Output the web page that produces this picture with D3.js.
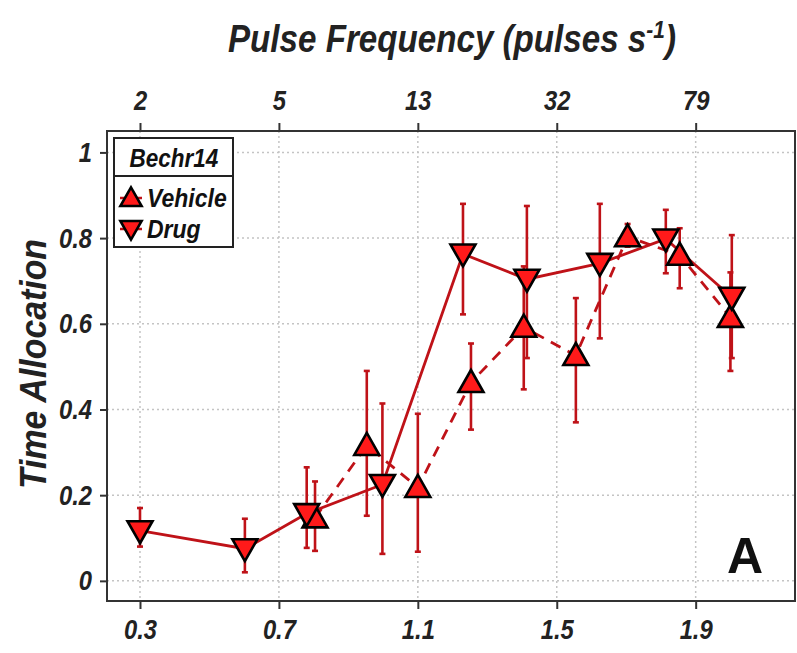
<!DOCTYPE html>
<html>
<head>
<meta charset="utf-8">
<script src="https://cdn.jsdelivr.net/npm/d3@7"></script>
<style>
  body { margin: 0; background: #fff; }
  text { font-family: "Liberation Sans", Arial, sans-serif; }
</style>
</head>
<body>
<div id="chart"></div>
<script>
// log10 pulse frequency on the bottom axis, time allocation on the y axis
var vehicleX = [0.804, 0.953, 1.10, 1.253, 1.405, 1.555, 1.704, 1.854, 2.0];
var vehicleY = [0.147, 0.316, 0.218, 0.463, 0.592, 0.526, 0.803, 0.760, 0.615];
var vehicleHi = [0.232, 0.49, 0.39, 0.554, 0.734, 0.66, 0.833, 0.823, 0.72];
var vehicleLo = [0.07, 0.152, 0.068, 0.353, 0.447, 0.37, 0.78, 0.683, 0.49];

var drugX = [0.3, 0.602, 0.78, 0.998, 1.23, 1.414, 1.624, 1.814, 2.004];
var drugY = [0.117, 0.075, 0.157, 0.225, 0.763, 0.704, 0.741, 0.798, 0.662];
var drugHi = [0.17, 0.145, 0.265, 0.414, 0.88, 0.875, 0.88, 0.866, 0.807];
var drugLo = [0.08, 0.02, 0.077, 0.063, 0.622, 0.52, 0.566, 0.718, 0.52];

var bottomTicks = [0.3, 0.7, 1.1, 1.5, 1.9];
var topTickLabels = ["2", "5", "13", "32", "79"];
var yTicks = [0, 0.2, 0.4, 0.6, 0.8, 1];
var yTickLabels = ["0", "0.2", "0.4", "0.6", "0.8", "1"];

var W = 797, H = 653;
var pLeft = 107, pRight = 795, pTop = 131, pBottom = 601;
var narrow = 0.85; // reference uses a condensed face

var svg = d3.select("#chart").append("svg").attr("width", W).attr("height", H);

var x = d3.scaleLinear().domain([0.205, 2.186]).range([pLeft, pRight]);
var y = d3.scaleLinear().domain([-0.047, 1.05]).range([pBottom, pTop]);

var lineColor = "#bf1218";
var fillColor = "#ff1a1a";

function squeeze(sel, s) {
    sel.each(function () {
        var ax = +this.getAttribute("x") || 0;
        this.setAttribute("transform", "translate(" + ax + ",0) scale(" + s + ",1) translate(" + (-ax) + ",0)");
    });
}
function boldItalic(sel, size) {
    sel.style("font-size", size + "px").style("font-weight", "bold").style("font-style", "italic").style("fill", "#222");
}

// grid
svg.append("g").selectAll("line").data(bottomTicks).enter().append("line")
    .attr("x1", function (d) { return x(d); }).attr("x2", function (d) { return x(d); })
    .attr("y1", pTop).attr("y2", pBottom)
    .style("stroke", "#c4c4c4").style("stroke-width", 1.5).style("stroke-dasharray", "2,3");
svg.append("g").selectAll("line").data(yTicks).enter().append("line")
    .attr("x1", pLeft).attr("x2", pRight)
    .attr("y1", function (d) { return y(d); }).attr("y2", function (d) { return y(d); })
    .style("stroke", "#c4c4c4").style("stroke-width", 1.5).style("stroke-dasharray", "2,3");

// axes
var bottomAxis = d3.axisBottom(x).tickValues(bottomTicks).tickFormat(d3.format(".1f")).tickSize(8).tickPadding(10);
var topAxis = d3.axisTop(x).tickValues(bottomTicks)
    .tickFormat(function (d, i) { return topTickLabels[i]; }).tickSize(8).tickPadding(13);
var leftAxis = d3.axisLeft(y).tickValues(yTicks)
    .tickFormat(function (d, i) { return yTickLabels[i]; }).tickSize(7).tickPadding(8);

function styleAxis(g) {
    g.select(".domain").remove();
    g.selectAll(".tick line").style("stroke", "#333").style("stroke-width", 2);
    g.selectAll(".tick text").attr("font-family", null).call(boldItalic, 28).call(squeeze, narrow);
}
svg.append("g").attr("transform", "translate(0," + pBottom + ")").call(bottomAxis).call(styleAxis);
svg.append("g").attr("transform", "translate(0," + pTop + ")").call(topAxis).call(styleAxis);
svg.append("g").attr("transform", "translate(" + pLeft + ",0)").call(leftAxis).call(styleAxis);

// frame
svg.append("rect").attr("x", pLeft).attr("y", pTop).attr("width", pRight - pLeft).attr("height", pBottom - pTop)
    .style("fill", "none").style("stroke", "#333").style("stroke-width", 2);

// titles
var titleG = svg.append("g");
var title = titleG.append("text").attr("x", 0).attr("y", 0).call(boldItalic, 38);
title.append("tspan").text("Pulse Frequency (pulses s");
title.append("tspan").attr("dy", -14).style("font-size", "24px").text("-1");
title.append("tspan").attr("dy", 14).text(")");
var tw = title.node().getBBox().width;
titleG.attr("transform", "translate(228,52) scale(" + (448 / tw) + ",1)");

var ylabG = svg.append("g");
var ylab = ylabG.append("text").attr("text-anchor", "middle").call(boldItalic, 37).text("Time Allocation");
var yw = ylab.node().getBBox().width;
ylabG.attr("transform", "translate(46,364) rotate(-90) scale(" + (250 / yw) + ",1)");

svg.append("text").attr("x", 745).attr("y", 573).attr("text-anchor", "middle")
    .style("font-size", "50px").style("font-weight", "bold").style("fill", "#111").text("A");

// series
function zip(xs, ys, his, los) {
    return xs.map(function (d, i) { return { x: d, y: ys[i], hi: his[i], lo: los[i] }; });
}
var vehicle = zip(vehicleX, vehicleY, vehicleHi, vehicleLo);
var drug = zip(drugX, drugY, drugHi, drugLo);

var line = d3.line().x(function (d) { return x(d.x); }).y(function (d) { return y(d.y); });

function errorBars(data) {
    var g = svg.append("g");
    g.selectAll("line.bar").data(data).enter().append("line")
        .attr("x1", function (d) { return x(d.x); }).attr("x2", function (d) { return x(d.x); })
        .attr("y1", function (d) { return y(d.hi); }).attr("y2", function (d) { return y(d.lo); })
        .style("stroke", lineColor).style("stroke-width", 2.6);
    ["hi", "lo"].forEach(function (k) {
        g.selectAll("line.cap" + k).data(data).enter().append("line")
            .attr("x1", function (d) { return x(d.x) - 3; }).attr("x2", function (d) { return x(d.x) + 3; })
            .attr("y1", function (d) { return y(d[k]); }).attr("y2", function (d) { return y(d[k]); })
            .style("stroke", lineColor).style("stroke-width", 2.6);
    });
}

errorBars(vehicle);
errorBars(drug);

svg.append("path").datum(vehicle).attr("d", line)
    .style("fill", "none").style("stroke", lineColor).style("stroke-width", 2.8).style("stroke-dasharray", "11,8");
svg.append("path").datum(drug).attr("d", line)
    .style("fill", "none").style("stroke", lineColor).style("stroke-width", 2.8);

var upTri = "M0,-12.5L12.5,9.5L-12.5,9.5Z";
var downTri = "M0,12.5L12.5,-9.5L-12.5,-9.5Z";

function markers(data, shape) {
    svg.append("g").selectAll("path").data(data).enter().append("path")
        .attr("d", shape)
        .attr("transform", function (d) { return "translate(" + x(d.x) + "," + y(d.y) + ")"; })
        .style("fill", fillColor).style("stroke", "#000").style("stroke-width", 2.6);
}
markers(vehicle, upTri);
markers(drug, downTri);

// legend
var lg = svg.append("g");
lg.append("rect").attr("x", 114).attr("y", 138).attr("width", 119).attr("height", 109)
    .style("fill", "#fff").style("stroke", "#222").style("stroke-width", 2);
lg.append("line").attr("x1", 114).attr("x2", 233).attr("y1", 176).attr("y2", 176)
    .style("stroke", "#222").style("stroke-width", 2);
lg.append("text").attr("x", 174).attr("y", 167).attr("text-anchor", "middle")
    .call(boldItalic, 25).style("fill", "#111").text("Bechr14").call(squeeze, 0.9);
var entries = [{ name: "Vehicle", shape: upTri, y: 198 }, { name: "Drug", shape: downTri, y: 229 }];
entries.forEach(function (e) {
    lg.append("line").attr("x1", 120).attr("x2", 142).attr("y1", e.y).attr("y2", e.y)
        .style("stroke", lineColor).style("stroke-width", 2.5);
    lg.append("path").attr("d", e.shape).attr("transform", "translate(131," + e.y + ") scale(0.85)")
        .style("fill", fillColor).style("stroke", "#000").style("stroke-width", 3);
    lg.append("text").attr("x", 147).attr("y", e.y + 9)
        .call(boldItalic, 25).style("fill", "#111").text(e.name).call(squeeze, 0.92);
});
</script>
</body>
</html>
